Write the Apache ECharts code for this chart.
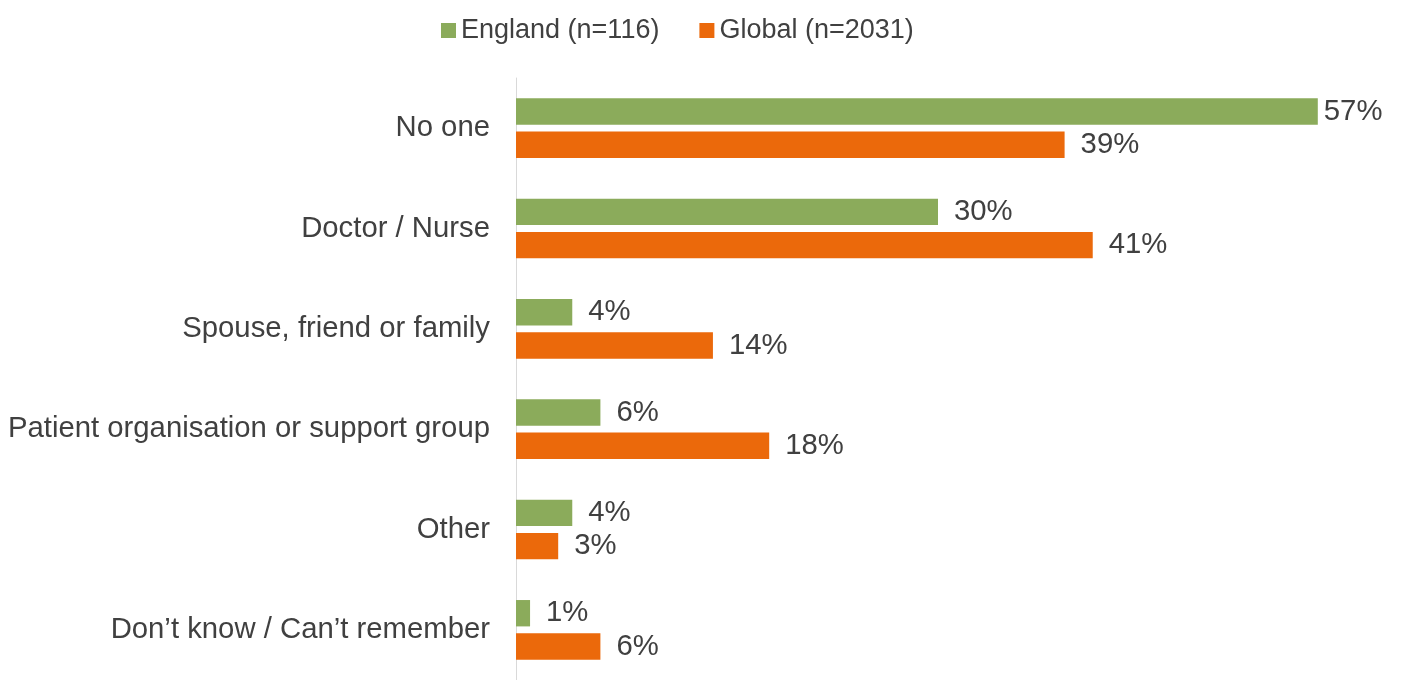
<!DOCTYPE html>
<html>
<head>
<meta charset="utf-8">
<script src="https://cdn.jsdelivr.net/npm/echarts@6/dist/echarts.min.js"></script>
<style>
  html, body { margin: 0; padding: 0; background: #ffffff; }
  #chart { width: 1401px; height: 680px; }
</style>
</head>
<body>
<div id="chart"></div>
<script>
// Who respondents talked to, England sample vs global sample (percent)
const categories = [
  'No one',
  'Doctor / Nurse',
  'Spouse, friend or family',
  'Patient organisation or support group',
  'Other',
  'Don\u2019t know / Can\u2019t remember'
];
const englandValues = [57, 30, 4, 6, 4, 1];
const globalValues = [39, 41, 14, 18, 3, 6];
const seriesNames = ['England (n=116)', 'Global (n=2031)'];

const GREEN = '#8BAB5B';
const ORANGE = '#EB690B';
const TEXT = '#404040';
const FONT = '"Liberation Sans", Arial, sans-serif';

const labelStyle = {
  show: true,
  position: 'right',
  distance: 16,
  color: TEXT,
  fontFamily: FONT,
  fontSize: 29.3,
  formatter: p => p.value + '%'
};

// keep the longest bar's label inside the plot
function withLabelFit(values) {
  return values.map(v => v >= 55
    ? { value: v, label: { distance: 6 } }
    : v);
}

const chart = echarts.init(document.getElementById('chart'), null, { renderer: 'canvas' });
chart.setOption({
  animation: false,
  backgroundColor: '#ffffff',
  legend: {
    top: 12,
    left: 436,
    icon: 'rect',
    itemWidth: 15,
    itemHeight: 15,
    itemGap: 40,
    textStyle: { color: TEXT, fontFamily: FONT, fontSize: 27 },
    data: seriesNames
  },
  grid: {
    left: 516,
    top: 78,
    width: 844,
    height: 606,
    containLabel: false
  },
  xAxis: {
    type: 'value',
    min: 0,
    max: 60,
    show: false,
    splitLine: { show: false }
  },
  yAxis: {
    type: 'category',
    inverse: true,
    data: categories,
    axisLine: { show: true, lineStyle: { color: '#d9d9d9', width: 1 } },
    axisTick: { show: false },
    axisLabel: {
      color: TEXT,
      fontFamily: FONT,
      fontSize: 29.3,
      margin: 26,
      padding: [3, 0, 0, 0]
    }
  },
  series: [
    {
      name: seriesNames[0],
      type: 'bar',
      data: withLabelFit(englandValues),
      itemStyle: { color: GREEN },
      barGap: '26%',
      barCategoryGap: '40.6%',
      label: labelStyle
    },
    {
      name: seriesNames[1],
      type: 'bar',
      data: withLabelFit(globalValues),
      itemStyle: { color: ORANGE },
      barGap: '26%',
      barCategoryGap: '40.6%',
      label: labelStyle
    }
  ]
});
</script>
</body>
</html>
